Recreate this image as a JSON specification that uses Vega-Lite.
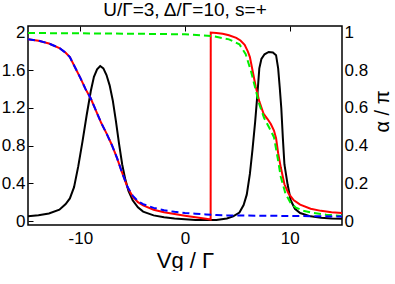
{
  "$schema": "https://vega.github.io/schema/vega-lite/v6.json",
  "width": 314,
  "height": 199,
  "padding": {"left": 1, "top": 0, "right": 0, "bottom": 0},
  "title": {"text": "U/Γ=3, Δ/Γ=10, s=+", "fontSize": 19, "font": "Liberation Sans", "fontWeight": "normal", "color": "black", "offset": 4},
  "config": {
    "view": {"stroke": "black", "strokeWidth": 1.5},
    "font": "Liberation Sans",
    "axis": {"ticks": false, "domain": false, "grid": true, "gridColor": "#000000", "gridOpacity": 1, "gridWidth": 1, "labelFontSize": 17, "labelColor": "black", "labelFont": "Liberation Sans", "labelFlush": false, "labelOverlap": false, "titleFont": "Liberation Sans", "titleFontWeight": "normal", "titleColor": "black"}
  },
  "datasets": {
    "cond": [
      {"vg": -15, "g": 0.05}, {"vg": -14, "g": 0.062}, {"vg": -13, "g": 0.08}, {"vg": -12, "g": 0.12},
      {"vg": -11.4, "g": 0.18}, {"vg": -11, "g": 0.24}, {"vg": -10.6, "g": 0.36}, {"vg": -10.2, "g": 0.58},
      {"vg": -9.8, "g": 0.84}, {"vg": -9.4, "g": 1.12}, {"vg": -9.0, "g": 1.38}, {"vg": -8.7, "g": 1.53},
      {"vg": -8.4, "g": 1.61}, {"vg": -8.1, "g": 1.645}, {"vg": -7.8, "g": 1.62}, {"vg": -7.5, "g": 1.55},
      {"vg": -7.2, "g": 1.44}, {"vg": -6.9, "g": 1.28}, {"vg": -6.6, "g": 1.06}, {"vg": -6.3, "g": 0.82},
      {"vg": -6.0, "g": 0.6}, {"vg": -5.7, "g": 0.44}, {"vg": -5.4, "g": 0.32}, {"vg": -5.0, "g": 0.22},
      {"vg": -4.5, "g": 0.145}, {"vg": -4.0, "g": 0.1}, {"vg": -3.0, "g": 0.06}, {"vg": -2.0, "g": 0.04},
      {"vg": -1.0, "g": 0.026}, {"vg": 0, "g": 0.018}, {"vg": 1, "g": 0.012}, {"vg": 2, "g": 0.01},
      {"vg": 3, "g": 0.012}, {"vg": 4, "g": 0.028}, {"vg": 4.6, "g": 0.05}, {"vg": 5.2, "g": 0.09},
      {"vg": 5.6, "g": 0.17}, {"vg": 5.9, "g": 0.28}, {"vg": 6.2, "g": 0.5}, {"vg": 6.45, "g": 0.76},
      {"vg": 6.7, "g": 1.05}, {"vg": 6.9, "g": 1.32}, {"vg": 7.1, "g": 1.62}, {"vg": 7.3, "g": 1.72},
      {"vg": 7.6, "g": 1.77}, {"vg": 8.0, "g": 1.795}, {"vg": 8.4, "g": 1.79}, {"vg": 8.7, "g": 1.76},
      {"vg": 8.9, "g": 1.62}, {"vg": 9.05, "g": 1.42}, {"vg": 9.2, "g": 1.2}, {"vg": 9.35, "g": 0.88},
      {"vg": 9.5, "g": 0.6}, {"vg": 9.8, "g": 0.39}, {"vg": 10.1, "g": 0.22}, {"vg": 10.5, "g": 0.13},
      {"vg": 11, "g": 0.085}, {"vg": 12, "g": 0.05}, {"vg": 13, "g": 0.035}, {"vg": 14, "g": 0.028},
      {"vg": 15, "g": 0.024}
    ],
    "phase": [
      {"curve": "c1", "vg": -15, "a": 0.965}, {"curve": "c1", "vg": -14, "a": 0.957}, {"curve": "c1", "vg": -13, "a": 0.942},
      {"curve": "c1", "vg": -12, "a": 0.918}, {"curve": "c1", "vg": -11.4, "a": 0.893}, {"curve": "c1", "vg": -11, "a": 0.87},
      {"curve": "c1", "vg": -10.5, "a": 0.815}, {"curve": "c1", "vg": -10, "a": 0.76}, {"curve": "c1", "vg": -9.5, "a": 0.7},
      {"curve": "c1", "vg": -9.0, "a": 0.65}, {"curve": "c1", "vg": -8.5, "a": 0.585}, {"curve": "c1", "vg": -8.0, "a": 0.52},
      {"curve": "c1", "vg": -7.5, "a": 0.465}, {"curve": "c1", "vg": -7.0, "a": 0.405}, {"curve": "c1", "vg": -6.5, "a": 0.335},
      {"curve": "c1", "vg": -6.0, "a": 0.255}, {"curve": "c1", "vg": -5.5, "a": 0.18}, {"curve": "c1", "vg": -5.0, "a": 0.13},
      {"curve": "c1", "vg": -4.5, "a": 0.1}, {"curve": "c1", "vg": -4.0, "a": 0.083}, {"curve": "c1", "vg": -3.0, "a": 0.06},
      {"curve": "c1", "vg": -2.0, "a": 0.047}, {"curve": "c1", "vg": -1.0, "a": 0.037}, {"curve": "c1", "vg": 0, "a": 0.028},
      {"curve": "c1", "vg": 1, "a": 0.02}, {"curve": "c1", "vg": 2, "a": 0.012}, {"curve": "c1", "vg": 2.45, "a": 0.008},
      {"curve": "c1", "vg": 2.46, "a": 1.0}, {"curve": "c1", "vg": 3.0, "a": 0.998}, {"curve": "c1", "vg": 3.6, "a": 0.994},
      {"curve": "c1", "vg": 4.2, "a": 0.986}, {"curve": "c1", "vg": 4.9, "a": 0.972}, {"curve": "c1", "vg": 5.3, "a": 0.958},
      {"curve": "c1", "vg": 5.7, "a": 0.935}, {"curve": "c1", "vg": 6.0, "a": 0.9}, {"curve": "c1", "vg": 6.2, "a": 0.87},
      {"curve": "c1", "vg": 6.45, "a": 0.8}, {"curve": "c1", "vg": 6.75, "a": 0.715}, {"curve": "c1", "vg": 7.1, "a": 0.635},
      {"curve": "c1", "vg": 7.5, "a": 0.57}, {"curve": "c1", "vg": 7.9, "a": 0.54}, {"curve": "c1", "vg": 8.2, "a": 0.515},
      {"curve": "c1", "vg": 8.5, "a": 0.48}, {"curve": "c1", "vg": 8.7, "a": 0.44}, {"curve": "c1", "vg": 8.9, "a": 0.36},
      {"curve": "c1", "vg": 9.15, "a": 0.285}, {"curve": "c1", "vg": 9.5, "a": 0.195}, {"curve": "c1", "vg": 9.9, "a": 0.145},
      {"curve": "c1", "vg": 10.4, "a": 0.11}, {"curve": "c1", "vg": 11, "a": 0.087}, {"curve": "c1", "vg": 12, "a": 0.065},
      {"curve": "c1", "vg": 13, "a": 0.054}, {"curve": "c1", "vg": 14, "a": 0.047}, {"curve": "c1", "vg": 15, "a": 0.042},

      {"curve": "c2", "vg": -15, "a": 0.998}, {"curve": "c2", "vg": -10, "a": 0.996}, {"curve": "c2", "vg": -5, "a": 0.994},
      {"curve": "c2", "vg": 0, "a": 0.991}, {"curve": "c2", "vg": 2.6, "a": 0.982}, {"curve": "c2", "vg": 4.2, "a": 0.964},
      {"curve": "c2", "vg": 5.2, "a": 0.938}, {"curve": "c2", "vg": 5.8, "a": 0.885}, {"curve": "c2", "vg": 6.3, "a": 0.796},
      {"curve": "c2", "vg": 6.7, "a": 0.708}, {"curve": "c2", "vg": 7.1, "a": 0.62}, {"curve": "c2", "vg": 7.55, "a": 0.548},
      {"curve": "c2", "vg": 8.05, "a": 0.495}, {"curve": "c2", "vg": 8.5, "a": 0.445}, {"curve": "c2", "vg": 8.85, "a": 0.336},
      {"curve": "c2", "vg": 9.15, "a": 0.235}, {"curve": "c2", "vg": 9.6, "a": 0.145}, {"curve": "c2", "vg": 10.1, "a": 0.095},
      {"curve": "c2", "vg": 10.6, "a": 0.071}, {"curve": "c2", "vg": 11.4, "a": 0.053}, {"curve": "c2", "vg": 12.2, "a": 0.044},
      {"curve": "c2", "vg": 13.5, "a": 0.034}, {"curve": "c2", "vg": 15, "a": 0.027},

      {"curve": "c3", "vg": -15, "a": 0.965}, {"curve": "c3", "vg": -14, "a": 0.957}, {"curve": "c3", "vg": -13, "a": 0.942},
      {"curve": "c3", "vg": -12, "a": 0.918}, {"curve": "c3", "vg": -11.4, "a": 0.893}, {"curve": "c3", "vg": -11, "a": 0.87},
      {"curve": "c3", "vg": -10.5, "a": 0.815}, {"curve": "c3", "vg": -10, "a": 0.76}, {"curve": "c3", "vg": -9.5, "a": 0.7},
      {"curve": "c3", "vg": -9.0, "a": 0.65}, {"curve": "c3", "vg": -8.5, "a": 0.585}, {"curve": "c3", "vg": -8.0, "a": 0.52},
      {"curve": "c3", "vg": -7.5, "a": 0.465}, {"curve": "c3", "vg": -7.0, "a": 0.405}, {"curve": "c3", "vg": -6.5, "a": 0.335},
      {"curve": "c3", "vg": -6.0, "a": 0.255}, {"curve": "c3", "vg": -5.5, "a": 0.182}, {"curve": "c3", "vg": -5.0, "a": 0.135},
      {"curve": "c3", "vg": -4.5, "a": 0.106}, {"curve": "c3", "vg": -4.0, "a": 0.09}, {"curve": "c3", "vg": -3.0, "a": 0.07},
      {"curve": "c3", "vg": -2.0, "a": 0.057}, {"curve": "c3", "vg": -1.0, "a": 0.049}, {"curve": "c3", "vg": 0, "a": 0.043},
      {"curve": "c3", "vg": 1, "a": 0.039}, {"curve": "c3", "vg": 2, "a": 0.035}, {"curve": "c3", "vg": 3, "a": 0.032},
      {"curve": "c3", "vg": 4, "a": 0.03}, {"curve": "c3", "vg": 6, "a": 0.029}, {"curve": "c3", "vg": 8, "a": 0.028},
      {"curve": "c3", "vg": 10, "a": 0.027}, {"curve": "c3", "vg": 12, "a": 0.026}, {"curve": "c3", "vg": 15, "a": 0.024}
    ]
  },
  "layer": [
    {
      "data": {"name": "cond"},
      "mark": {"type": "line", "color": "black", "strokeWidth": 2, "clip": true},
      "encoding": {
        "x": {"field": "vg", "type": "quantitative",
          "scale": {"domain": [-15, 15], "nice": false, "zero": false},
          "axis": {"orient": "bottom", "values": [-10, 0, 10], "gridDash": [5, 1000],
            "labelExpr": "replace(datum.label, '−', '-')",
            "labelPadding": 5, "title": "Vg / Γ", "titleFontSize": 22, "titlePadding": 4}},
        "y": {"field": "g", "type": "quantitative",
          "scale": {"domain": [-0.042, 2.07], "nice": false, "zero": false},
          "axis": {"orient": "left", "values": [0, 0.4, 0.8, 1.2, 1.6, 2.0], "gridDash": [5, 1000],
            "labelExpr": "format(datum.value, '~g')", "labelPadding": 3, "title": null}}
      }
    },
    {
      "data": {"name": "phase"},
      "transform": [{"filter": "datum.curve === 'c1'"}],
      "mark": {"type": "line", "color": "#ff0000", "strokeWidth": 2, "clip": true},
      "encoding": {
        "x": {"field": "vg", "type": "quantitative",
          "axis": {"orient": "top", "values": [-10, 0, 10], "gridDash": [5, 1000], "labels": false, "title": null}},
        "y": {"field": "a", "type": "quantitative",
          "scale": {"domain": [-0.021, 1.035], "nice": false, "zero": false},
          "axis": {"orient": "right", "values": [0, 0.2, 0.4, 0.6, 0.8, 1.0], "gridDash": [5, 1000],
            "labelExpr": "format(datum.value, '~g')", "labelPadding": 2,
            "title": "α / π", "titleFontSize": 20, "titleAngle": 270, "titleBaseline": "middle", "titleAlign": "center", "titleX": 40, "titleY": 85}}
      }
    },
    {
      "data": {"name": "phase"},
      "transform": [{"filter": "datum.curve === 'c2'"}],
      "mark": {"type": "line", "color": "#00ee00", "strokeWidth": 2, "strokeDash": [7, 4], "clip": true},
      "encoding": {
        "x": {"field": "vg", "type": "quantitative",
          "axis": {"orient": "bottom", "values": [-14,-13,-12,-11,-9,-8,-7,-6,-5,-4,-3,-2,-1,1,2,3,4,5,6,7,8,9,11,12,13,14], "gridDash": [3, 1000], "labels": false, "title": null}},
        "y": {"field": "a", "type": "quantitative",
          "scale": {"domain": [-0.021, 1.035], "nice": false, "zero": false},
          "axis": {"orient": "right", "values": [0.1, 0.3, 0.5, 0.7, 0.9], "gridDash": [3, 1000], "labels": false, "title": null}}
      }
    },
    {
      "data": {"name": "phase"},
      "transform": [{"filter": "datum.curve === 'c3'"}],
      "mark": {"type": "line", "color": "#0000ff", "strokeWidth": 2, "strokeDash": [7, 4], "clip": true},
      "encoding": {
        "x": {"field": "vg", "type": "quantitative",
          "axis": {"orient": "top", "values": [-14,-13,-12,-11,-9,-8,-7,-6,-5,-4,-3,-2,-1,1,2,3,4,5,6,7,8,9,11,12,13,14], "gridDash": [3, 1000], "labels": false, "title": null}},
        "y": {"field": "a", "type": "quantitative",
          "scale": {"domain": [-0.021, 1.035], "nice": false, "zero": false},
          "axis": {"orient": "left", "values": [0.1, 0.3, 0.5, 0.7, 0.9], "gridDash": [3, 1000], "labels": false, "title": null}}
      }
    }
  ],
  "resolve": {"scale": {"y": "independent"}, "axis": {"x": "independent"}}
}
